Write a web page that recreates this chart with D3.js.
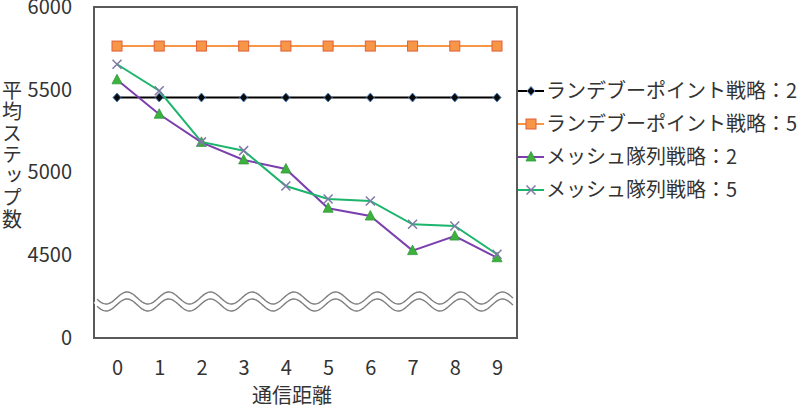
<!DOCTYPE html>
<html><head><meta charset="utf-8">
<script src="https://cdn.jsdelivr.net/npm/d3@7"></script>
<style>body{margin:0;background:#fff}svg{display:block}text{font-family:"Noto Sans CJK JP","Noto Sans",sans-serif;fill:#333}</style>
</head><body><svg id="c" width="802" height="408"></svg>
<script>
const categories = [0,1,2,3,4,5,6,7,8,9];
const rendezvous2 = [5453,5453,5453,5453,5453,5453,5453,5453,5453,5453];
const rendezvous5 = [5764,5764,5764,5764,5764,5764,5764,5764,5764,5764];
const mesh2 = [5560,5352,5182,5076,5021,4784,4737,4528,4616,4485];
const mesh5 = [5654,5494,5185,5132,4918,4840,4828,4687,4677,4506];
const yTickValues = [4000,4500,5000,5500,6000];
const yTickLabels = ["0","4500","5000","5500","6000"];
const seriesNames = ["ランデブーポイント戦略：2","ランデブーポイント戦略：5","メッシュ隊列戦略：2","メッシュ隊列戦略：5"];
const xTitle = "通信距離";
const yTitle = "平均ステップ数";

const svg = d3.select("#c");
const box = {l:94, r:517, t:7, b:338};
const x = d3.scalePoint().domain(categories).range([117,497]);
const y = d3.scaleLinear().domain([4000,6000]).range([box.b, box.t]);

// plot box
svg.append("rect").attr("x",box.l).attr("y",box.t).attr("width",box.r-box.l).attr("height",box.b-box.t)
  .attr("fill","#fff").attr("stroke","#595959").attr("stroke-width",2);

// y axis labels
const yAxis = d3.axisLeft(y).tickValues(yTickValues).tickSize(0).tickPadding(0)
  .tickFormat((d,i)=>yTickLabels[i]);
const ga = svg.append("g").attr("transform",`translate(72,0)`).call(yAxis);
ga.select(".domain").remove();
ga.selectAll("text").attr("font-size",20).attr("fill","#333").style("font-family",'"Noto Sans CJK JP"');

// x axis labels
const xAxis = d3.axisBottom(x).tickSize(0).tickPadding(0);
const gx = svg.append("g").attr("transform",`translate(0,361)`).call(xAxis);
gx.select(".domain").remove();
gx.selectAll("text").attr("font-size",20).attr("fill","#333").style("font-family",'"Noto Sans CJK JP"');

// axis titles
svg.append("text").attr("x",292).attr("y",403).attr("text-anchor","middle").attr("font-size",20).text(xTitle);
svg.append("text").attr("x",12).attr("y",80).attr("font-size",20)
  .style("writing-mode","vertical-rl").style("letter-spacing","1.5px").text(yTitle);

// break symbol (wavy lines)
const period = x(1)-x(0) - 0.5;
const phase0 = x(0)+10;
const wave = (cy)=>d3.range(97,514,1).map(px=>[px, cy - 6*Math.cos(2*Math.PI*(px-phase0)/period)]);
const wl = d3.line();
[[298,"#fff",10],[298,"#7f7f7f",1.4],[305,"#7f7f7f",1.4]].forEach(([cy,c,w])=>{
  svg.append("path").attr("d",wl(wave(cy))).attr("fill","none").attr("stroke",c).attr("stroke-width",w);
});

const line = d3.line().x((d,i)=>x(categories[i])).y(d=>y(d));

const series = [
  {vals:rendezvous2, color:"#000000", marker:"diamond"},
  {vals:rendezvous5, color:"#F79646", marker:"square"},
  {vals:mesh2, color:"#7B3FAE", marker:"triangle"},
  {vals:mesh5, color:"#1DB46E", marker:"x"}
];

function drawMarker(g, type, cx, cy){
  if(type==="diamond"){
    g.append("path").attr("d",`M${cx},${cy-4.5}L${cx+4},${cy}L${cx},${cy+4.5}L${cx-4},${cy}Z`)
      .attr("fill","#0a0a0a").attr("stroke","#4F81BD").attr("stroke-width",1);
  } else if(type==="square"){
    g.append("rect").attr("x",cx-5).attr("y",cy-5).attr("width",10).attr("height",10)
      .attr("fill","#F79646").attr("stroke","#E0603A").attr("stroke-width",1);
  } else if(type==="triangle"){
    g.append("path").attr("d",`M${cx},${cy-5.5}L${cx+5},${cy+4}L${cx-5},${cy+4}Z`)
      .attr("fill","#3DB03D").attr("stroke","#2E9A3A").attr("stroke-width",0.8);
  } else {
    g.append("path").attr("d",`M${cx-4.5},${cy-4.5}L${cx+4.5},${cy+4.5}M${cx+4.5},${cy-4.5}L${cx-4.5},${cy+4.5}`)
      .attr("stroke","#8078A8").attr("stroke-width",1.5);
  }
}

series.forEach(s=>{
  svg.append("path").attr("d",line(s.vals)).attr("fill","none").attr("stroke",s.color).attr("stroke-width",2);
});
series.forEach(s=>{
  const g = svg.append("g");
  s.vals.forEach((v,i)=>drawMarker(g,s.marker,x(categories[i]),y(v)));
});

// legend
const leg = svg.append("g");
series.forEach((s,i)=>{
  const ly = 91 + i*33;
  leg.append("line").attr("x1",518).attr("x2",544).attr("y1",ly).attr("y2",ly).attr("stroke",s.color).attr("stroke-width",2);
  drawMarker(leg,s.marker,531,ly);
  leg.append("text").attr("x",546).attr("y",ly+7).attr("font-size",20).text(seriesNames[i]);
});
</script></body></html>
